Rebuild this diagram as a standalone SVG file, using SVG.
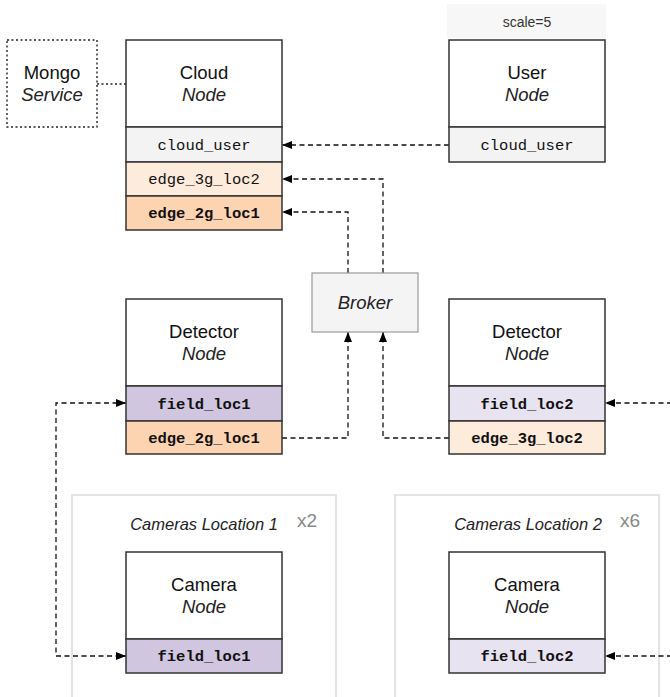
<svg xmlns="http://www.w3.org/2000/svg" width="670" height="697" viewBox="0 0 670 697">
<defs>
<marker id="arr" markerUnits="userSpaceOnUse" markerWidth="11" markerHeight="9" refX="10" refY="4" orient="auto-start-reverse">
<path d="M0,0 L10,4 L0,8 z" fill="#000"/>
</marker>
<style>
.hdr{fill:#fff;stroke:#333;stroke-width:1.5}
.row{stroke:#333;stroke-width:1.5}
.t{font-family:"Liberation Sans",Arial,Helvetica,sans-serif;font-size:18.5px;fill:#111;text-anchor:middle}
.i{font-style:italic;fill:#222}
.m{font-family:"Liberation Mono","Courier New",monospace;font-size:15.5px;fill:#111;text-anchor:middle}
.b{font-weight:bold}
.cu{fill:#f3f3f3}
.e3{fill:#fdebdc}
.e2{fill:#fdd4b2}
.f1{fill:#d0c6df}
.f2{fill:#e8e3f1}
.con{fill:none;stroke:#111;stroke-width:1.3;stroke-dasharray:5,3.5}
.dot{fill:none;stroke:#222;stroke-width:1.4;stroke-dasharray:2,2.5}
.grp{fill:none;stroke:#e4e4e4;stroke-width:2}
.gl{font-family:"Liberation Sans",Arial,Helvetica,sans-serif;font-size:16.5px;font-style:italic;fill:#222;text-anchor:middle}
.mult{font-family:"Liberation Sans",Arial,Helvetica,sans-serif;font-size:19px;fill:#888}
</style>
</defs>
<rect width="670" height="697" fill="#fff"/>

<g id="group-loc1">
<rect class="grp" x="72" y="495" width="264" height="230"/>
<text class="gl" x="204" y="530">Cameras Location 1</text>
<text class="mult" x="297" y="527">x2</text>
</g>
<g id="group-loc2">
<rect class="grp" x="395" y="495" width="264" height="230"/>
<text class="gl" x="528" y="530">Cameras Location 2</text>
<text class="mult" x="620" y="527">x6</text>
</g>

<g id="connectors">
<path class="dot" d="M97,84 H126"/>
<path class="con" d="M449,145 H282" marker-end="url(#arr)"/>
<path class="con" d="M383,273 V179 H282" marker-end="url(#arr)"/>
<path class="con" d="M348,273 V212 H282" marker-end="url(#arr)"/>
<path class="con" d="M282,438 H348 V332" marker-end="url(#arr)"/>
<path class="con" d="M449,438 H383 V332" marker-end="url(#arr)"/>
<path class="con" d="M126,403 H56 V656 H126" marker-start="url(#arr)" marker-end="url(#arr)"/>
<path class="con" d="M672,403 H605" marker-end="url(#arr)"/>
<path class="con" d="M672,656 H605" marker-end="url(#arr)"/>
</g>

<g id="mongo">
<rect class="dot" x="7" y="40" width="90" height="87" style="fill:#fff"/>
<text class="t" x="52" y="79">Mongo</text>
<text class="t i" x="52" y="101">Service</text>
</g>

<g id="cloud">
<rect class="hdr" x="126" y="40" width="156" height="87"/>
<text class="t" x="204" y="79">Cloud</text>
<text class="t i" x="204" y="101">Node</text>
<rect class="row cu" x="126" y="127" width="156" height="35"/>
<text class="m" x="204" y="150">cloud_user</text>
<rect class="row e3" x="126" y="162" width="156" height="34"/>
<text class="m" x="204" y="184">edge_3g_loc2</text>
<rect class="row e2" x="126" y="196" width="156" height="34"/>
<text class="m b" x="204" y="218">edge_2g_loc1</text>
</g>

<g id="user">
<rect x="447" y="4" width="159" height="34" fill="#f7f7f7"/>
<text class="t" x="527" y="27" style="font-size:14px;fill:#333">scale=5</text>
<rect class="hdr" x="449" y="40" width="156" height="87"/>
<text class="t" x="527" y="79">User</text>
<text class="t i" x="527" y="101">Node</text>
<rect class="row cu" x="449" y="127" width="156" height="35"/>
<text class="m" x="527" y="150">cloud_user</text>
</g>

<g id="broker">
<rect x="312" y="273" width="106" height="59" fill="#f4f4f4" stroke="#999" stroke-width="1.2"/>
<text class="t i" x="365" y="309">Broker</text>
</g>

<g id="detector1">
<rect class="hdr" x="126" y="299" width="156" height="87"/>
<text class="t" x="204" y="338">Detector</text>
<text class="t i" x="204" y="360">Node</text>
<rect class="row f1" x="126" y="386" width="156" height="35"/>
<text class="m b" x="204" y="409">field_loc1</text>
<rect class="row e2" x="126" y="421" width="156" height="33"/>
<text class="m b" x="204" y="443">edge_2g_loc1</text>
</g>

<g id="detector2">
<rect class="hdr" x="449" y="299" width="156" height="87"/>
<text class="t" x="527" y="338">Detector</text>
<text class="t i" x="527" y="360">Node</text>
<rect class="row f2" x="449" y="386" width="156" height="35"/>
<text class="m b" x="527" y="409">field_loc2</text>
<rect class="row e3" x="449" y="421" width="156" height="33"/>
<text class="m b" x="527" y="443">edge_3g_loc2</text>
</g>

<g id="camera1">
<rect class="hdr" x="126" y="552" width="156" height="87"/>
<text class="t" x="204" y="591">Camera</text>
<text class="t i" x="204" y="613">Node</text>
<rect class="row f1" x="126" y="639" width="156" height="34"/>
<text class="m b" x="204" y="661">field_loc1</text>
</g>

<g id="camera2">
<rect class="hdr" x="449" y="552" width="156" height="87"/>
<text class="t" x="527" y="591">Camera</text>
<text class="t i" x="527" y="613">Node</text>
<rect class="row f2" x="449" y="639" width="156" height="34"/>
<text class="m b" x="527" y="661">field_loc2</text>
</g>
</svg>
